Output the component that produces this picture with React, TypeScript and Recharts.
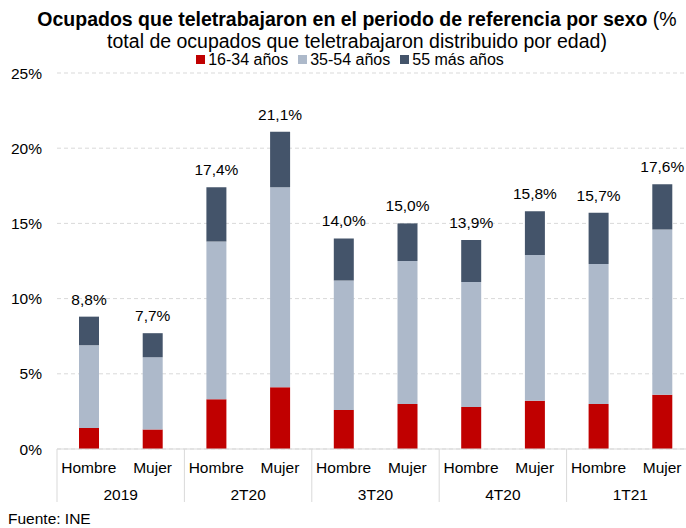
import { BarChart, Bar, XAxis, YAxis, CartesianGrid, LabelList } from 'recharts'

const sexos = ['Hombre', 'Mujer', 'Hombre', 'Mujer', 'Hombre', 'Mujer', 'Hombre', 'Mujer', 'Hombre', 'Mujer']
const periodos = ['2019', '2019', '2T20', '2T20', '3T20', '3T20', '4T20', '4T20', '1T21', '1T21']
const edad1634 = [1.4, 1.3, 3.3, 4.1, 2.6, 3.0, 2.8, 3.2, 3.0, 3.6]
const edad3554 = [5.5, 4.8, 10.5, 13.3, 8.6, 9.5, 8.3, 9.7, 9.3, 11.0]
const edad55 = [1.9, 1.6, 3.6, 3.7, 2.8, 2.5, 2.8, 2.9, 3.4, 3.0]
const totales = [8.8, 7.7, 17.4, 21.1, 14.0, 15.0, 13.9, 15.8, 15.7, 17.6]
const yTicks = [0, 5, 10, 15, 20, 25]

const data = sexos.map((s, i) => ({
  key: `${periodos[i]}-${s}`,
  sexo: s,
  periodo: periodos[i],
  a: edad1634[i],
  b: edad3554[i],
  c: edad55[i],
  total: totales[i],
}))

const FONT = '"Liberation Sans", Arial, sans-serif'
const ROJO = '#C00000'
const GRIS = '#ADB9CA'
const AZUL = '#44546A'

const CHART_W = 700
const Y_W = 57
const M_RIGHT = 6
const BAND = (CHART_W - Y_W - M_RIGHT) / data.length

const fmt = (v: number) => v.toFixed(1).replace('.', ',') + '%'

const SexTick = ({ x, y, payload }: any) => (
  <text x={x} y={y + 16} textAnchor="middle" fontSize={15.5} fill="#000" fontFamily={FONT}>
    {payload.value}
  </text>
)

const GroupTick = ({ x, y, payload, index }: any) => {
  const i = payload.index ?? index
  return (
    <g>
      {i % 2 === 0 && (
        <>
          <line x1={x - BAND / 2} x2={x - BAND / 2} y1={y - 38} y2={y + 15} stroke="#d9d9d9" />
          <text x={x + BAND / 2} y={y + 13} textAnchor="middle" fontSize={15.5} fill="#000" fontFamily={FONT}>
            {payload.value}
          </text>
        </>
      )}
      {i === data.length - 1 && (
        <line x1={x + BAND / 2} x2={x + BAND / 2} y1={y - 38} y2={y + 15} stroke="#d9d9d9" />
      )}
    </g>
  )
}

const legend = [
  { label: '16-34 años', color: ROJO },
  { label: '35-54 años', color: GRIS },
  { label: '55 más años', color: AZUL },
]

export default function App() {
  return (
    <div
      style={{
        position: 'fixed',
        left: 0,
        top: 0,
        width: 686,
        height: 528,
        overflow: 'hidden',
        background: '#fff',
        fontFamily: FONT,
        color: '#000',
      }}
    >
      <div
        style={{
          position: 'absolute',
          left: 0,
          top: 8,
          width: 714,
          textAlign: 'center',
          fontSize: 19.5,
          lineHeight: '22px',
        }}
      >
        <div>
          <b>Ocupados que teletrabajaron en el periodo de referencia por sexo</b> (%
        </div>
        <div>total de ocupados que teletrabajaron distribuido por edad)</div>
      </div>
      <div
        style={{
          position: 'absolute',
          left: 0,
          top: 52,
          width: 700,
          display: 'flex',
          justifyContent: 'center',
          gap: 10,
          fontSize: 16,
          lineHeight: '15px',
        }}
      >
        {legend.map((l) => (
          <span key={l.label} style={{ display: 'flex', alignItems: 'center' }}>
            <span style={{ width: 9, height: 9, background: l.color, marginRight: 3 }} />
            {l.label}
          </span>
        ))}
      </div>
      <div style={{ position: 'absolute', left: 0, top: 0 }}>
        <BarChart
          width={CHART_W}
          height={528}
          data={data}
          margin={{ top: 73, right: M_RIGHT, bottom: 19, left: 0 }}
        >
          <CartesianGrid vertical={false} stroke="#d9d9d9" strokeDasharray="4 3" />
          <XAxis
            dataKey="sexo"
            xAxisId={0}
            height={30}
            tickLine={false}
            axisLine={{ stroke: '#d9d9d9' }}
            tick={<SexTick />}
            interval={0}
          />
          <XAxis
            dataKey="periodo"
            xAxisId={1}
            height={30}
            tickLine={false}
            axisLine={false}
            tick={<GroupTick />}
            interval={0}
          />
          <YAxis
            width={Y_W}
            domain={[0, 25]}
            ticks={yTicks}
            tickFormatter={(v) => `${v}%`}
            axisLine={false}
            tickLine={false}
            tickMargin={9}
            tick={{ fontSize: 15.5, fill: '#000', fontFamily: FONT }}
          />
          <Bar dataKey="a" stackId="s" fill={ROJO} barSize={20} isAnimationActive={false} />
          <Bar dataKey="b" stackId="s" fill={GRIS} barSize={20} isAnimationActive={false} />
          <Bar dataKey="c" stackId="s" fill={AZUL} barSize={20} isAnimationActive={false}>
            <LabelList
              dataKey="total"
              position="top"
              offset={12}
              formatter={(v: any) => fmt(Number(v))}
              style={{ fontSize: 15.5, fill: '#000', fontFamily: FONT }}
            />
          </Bar>
        </BarChart>
      </div>
      <div style={{ position: 'absolute', left: 8, top: 510, fontSize: 15.5, lineHeight: '18px' }}>
        Fuente: INE
      </div>
    </div>
  )
}
